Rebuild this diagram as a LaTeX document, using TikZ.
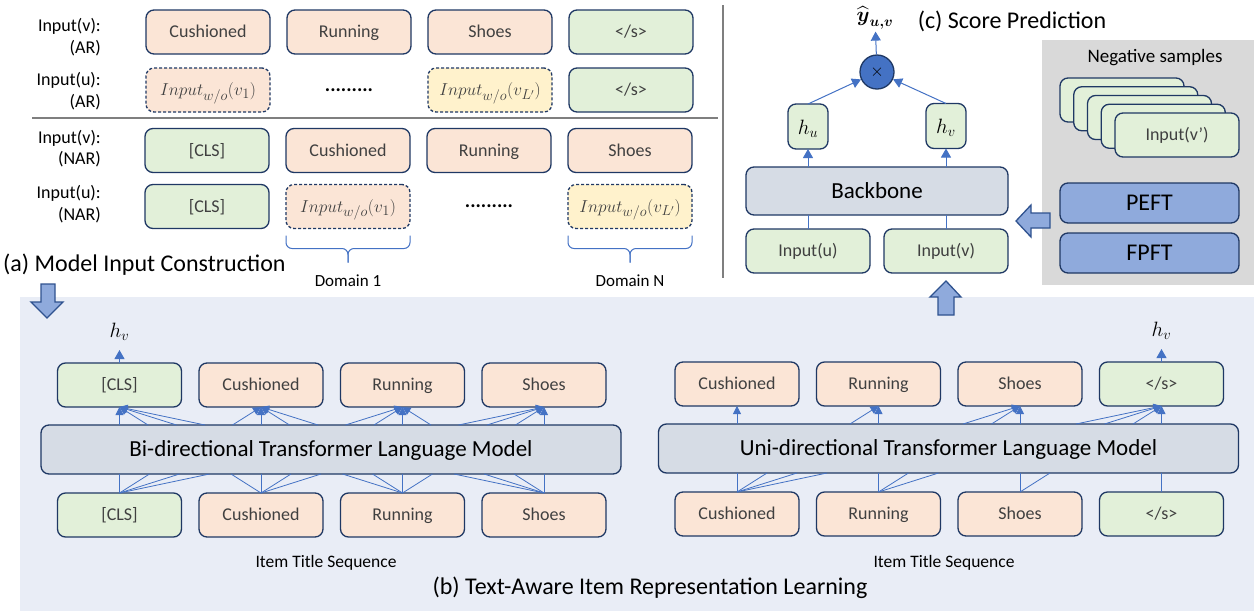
\documentclass[tikz,border=0pt]{standalone}
\usepackage{amsmath}
\usepackage{fontspec}
\setmainfont{Carlito}
\usetikzlibrary{positioning,calc,arrows.meta}

\definecolor{peach}{HTML}{FBE5D6}
\definecolor{mint}{HTML}{E2F0D9}
\definecolor{cream}{HTML}{FFF2CC}
\definecolor{slate}{HTML}{D6DCE5}
\definecolor{navy}{HTML}{1F3864}
\definecolor{linkblue}{HTML}{4472C4}
\definecolor{softblue}{HTML}{8FAADC}
\definecolor{arrowrim}{HTML}{2F528F}
\definecolor{panelblue}{HTML}{E9EDF6}
\definecolor{panelgray}{HTML}{D9D9D9}
\definecolor{inktext}{HTML}{404040}
\definecolor{rulegray}{HTML}{7F7F7F}

\newcommand{\pxsize}[1]{\fontsize{#1}{#1}\selectfont}

\begin{document}
\begin{tikzpicture}[x=1pt,y=-1pt,
    every node/.style={font=\pxsize{18}},
    tok/.style={draw=navy,line width=1.3pt,rounded corners=8pt,minimum width=124pt,
        minimum height=44pt,inner sep=0pt,outer sep=0pt,text=inktext,
        text height=13pt,text depth=1.4pt},
    word/.style={tok,fill=peach},
    spec/.style={tok,fill=mint},
    masked/.style={tok,fill=peach,dash pattern=on 3pt off 2pt,font=\pxsize{19},
        text height=14pt,text depth=3pt},
    maskedlast/.style={masked,fill=cream},
    ellip/.style={minimum width=124pt,minimum height=44pt,inner sep=0pt,outer sep=0pt,
        font=\pxsize{20}\bfseries},
    rowlab/.style={anchor=east,align=right,inner sep=0pt,font=\fontsize{18}{21.5}\selectfont},
    core/.style={tok,fill=slate,text=black,font=\pxsize{23},text height=17pt,text depth=2.2pt},
    lm/.style={core,minimum width=580pt,minimum height=49pt},
    hbox/.style={tok,fill=mint,minimum width=40pt,minimum height=45pt,text=black,font=\pxsize{21},
        text height=16pt,text depth=0.4pt},
    mul/.style={circle,draw=navy,line width=1.3pt,fill=linkblue,minimum size=34pt,inner sep=0pt},
    knob/.style={tok,fill=softblue,minimum width=179pt,minimum height=40pt,text=black,font=\pxsize{24},
        text height=18pt,text depth=2.5pt},
    wire/.style={linkblue,line width=0.8pt},
    flow/.style={wire,-{Triangle[length=8pt,width=8pt]}},
    bigflow/.style={linkblue,line width=1pt,-{Triangle[length=9pt,width=10pt]}},
    divider/.style={rulegray,line width=1.5pt},
    brc/.style={linkblue,line width=1pt,rounded corners=6pt},
    heading/.style={font=\pxsize{24},inner sep=0pt},
    blockarrow/.style={fill=softblue,draw=arrowrim,line width=1.3pt,line join=miter}]

\useasboundingbox (0,0) rectangle (1254,611);
\fill[panelblue] (20,297) rectangle (1254,611);
\fill[panelgray] (1042,40) rectangle (1254,285);
\draw[divider] (723,5) -- (723,278);
\draw[divider] (32,118) -- (718,118);

\node[rowlab] (la1) at (101,37) {Input(v):\\(AR)};
\node[rowlab] (la2) at (101,91) {Input(u):\\(AR)};
\node[rowlab] (la3) at (101,148.5) {Input(v):\\(NAR)};
\node[rowlab] (la4) at (101,204) {Input(u):\\(NAR)};

\node[word] (va1) at (208,32) {Cushioned};
\node[word,right=17pt of va1] (va2) {Running};
\node[word,right=17pt of va2] (va3) {Shoes};
\node[spec,right=17pt of va3] (va4) {</s>};
\node[masked] (ua1) at (208,90) {$Input_{w/o}(v_1)$};
\node[ellip,right=17pt of ua1] (ua2) {.........};
\node[maskedlast,right=17pt of ua2] (ua3) {$Input_{w/o}(v_{L'})$};
\node[spec,right=17pt of ua3] (ua4) {</s>};
\node[spec] (vn1) at (207,150.5) {[CLS]};
\node[word,right=17pt of vn1] (vn2) {Cushioned};
\node[word,right=17pt of vn2] (vn3) {Running};
\node[word,right=17pt of vn3] (vn4) {Shoes};
\node[spec] (un1) at (207,206.5) {[CLS]};
\node[masked,right=17pt of un1] (un2) {$Input_{w/o}(v_1)$};
\node[ellip,right=17pt of un2] (un3) {.........};
\node[maskedlast,right=17pt of un3] (un4) {$Input_{w/o}(v_{L'})$};

\foreach \b/\d in {un2/1,un4/N}{
  \draw[brc] ([yshift=-7pt]\b.south west) |- ([yshift=-20pt]\b.south) -- ([yshift=-34pt]\b.south);
  \draw[brc] ([yshift=-7pt]\b.south east) |- ([yshift=-20pt]\b.south) -- ([yshift=-34pt]\b.south);
  \node[font=\pxsize{17}] (dom\d) at ([yshift=-52pt]\b.south) {Domain \d};
}
\node[heading,anchor=west] (ta) at (3,265) {(a) Model Input Construction};

\draw[blockarrow] (41,284) -- (55,284) -- (55,302) -- (63,302) -- (47,318) -- (31,302) -- (41,302) -- cycle;
\draw[blockarrow] (938,315) -- (954,315) -- (954,297) -- (961,297) -- (946,281) -- (930,297) -- (938,297) -- cycle;
\draw[blockarrow] (1050,213) -- (1031,213) -- (1031,205) -- (1016,221) -- (1031,237) -- (1031,228) -- (1050,228) -- cycle;

\node[spec] (bt1) at (119.5,385) {[CLS]};
\node[word,right=17.5pt of bt1] (bt2) {Cushioned};
\node[word,right=17.5pt of bt2] (bt3) {Running};
\node[word,right=17.5pt of bt3] (bt4) {Shoes};
\node[lm] (bilm) at (331,449.5) {Bi-directional Transformer Language Model};
\node[spec] (bb1) at (119.5,515) {[CLS]};
\node[word,right=17.5pt of bb1] (bb2) {Cushioned};
\node[word,right=17.5pt of bb2] (bb3) {Running};
\node[word,right=17.5pt of bb3] (bb4) {Shoes};
\node[above=20pt of bt1,font=\pxsize{20},inner sep=2pt] (hvb) {$h_v$};
\node[font=\pxsize{17.5}] (seqb) at (326,563) {Item Title Sequence};

\node[word] (ut1) at (737,384) {Cushioned};
\node[word,right=17.5pt of ut1] (ut2) {Running};
\node[word,right=17.5pt of ut2] (ut3) {Shoes};
\node[spec,right=17.5pt of ut3] (ut4) {</s>};
\node[lm] (unilm) at (948.5,448.5) {Uni-directional Transformer Language Model};
\node[word] (ub1) at (737,514) {Cushioned};
\node[word,right=17.5pt of ub1] (ub2) {Running};
\node[word,right=17.5pt of ub2] (ub3) {Shoes};
\node[spec,right=17.5pt of ub3] (ub4) {</s>};
\node[above=20pt of ut4,font=\pxsize{20},inner sep=2pt] (hvu) {$h_v$};
\node[font=\pxsize{17.5}] (sequ) at (944,563) {Item Title Sequence};
\node[heading] (tb) at (650,588) {(b) Text-Aware Item Representation Learning};

\draw[bigflow,shorten >=7pt] (bt1) -- (hvb);
\draw[bigflow,shorten >=7pt] (ut4) -- (hvu);
\foreach \i in {1,...,4}{
  \foreach \j in {1,...,4}{
    \draw[flow] ($(bt\i.south |- bilm.north)+({(\j-\i)*28.5},0)$) -- (bt\i.south);
    \draw[wire] (bb\i.north) -- ($(bb\i.north |- bilm.south)+({(\j-\i)*30},0)$);
  }
  \foreach \j in {1,...,\i}
    \draw[flow] ($(ut\i.south |- unilm.north)+({(\j-\i)*28.5},0)$) -- (ut\i.south);
  \foreach \j in {\i,...,4}
    \draw[wire] (ub\i.north) -- ($(ub\i.north |- unilm.south)+({(\j-\i)*30},0)$);
}

\node[core,minimum width=262pt,minimum height=48pt] (bone) at (877,191) {Backbone};
\node[spec] (inu) at (808,251) {Input(u)};
\node[spec] (inv) at (946,251) {Input(v)};
\node[hbox] (hu) at (808,126.5) {$h_u$};
\node[hbox] (hv) at (946,126) {$h_v$};
\node[mul] (prod) at (877,72) {$\times$};
\node[font=\pxsize{20},inner sep=2pt] (yhat) at (875,18) {$\widehat{\boldsymbol{y}}_{\boldsymbol{u,v}}$};
\node[heading] (tc) at (1012,21) {(c) Score Prediction};
\draw[wire] (inu.north) -- (inu.north |- bone.south);
\draw[wire] (inv.north) -- (inv.north |- bone.south);
\draw[bigflow] (hu.south |- bone.north) -- (hu.south);
\draw[bigflow] (hv.south |- bone.north) -- (hv.south);
\draw[bigflow] (hu.north) -- (prod);
\draw[bigflow] (hv.north) -- (prod);
\draw[bigflow] (prod) -- (yhat);

\node[font=\pxsize{19}] (negt) at (1155,58) {Negative samples};
\foreach \k in {0,...,3}
  \node[spec] (neg\k) at ({1122+13.75*\k},{100+8.75*\k}) {};
\node[spec] (neg4) at (1177,135) {Input(v’)};
\node[knob] (peft) at (1149.5,203) {PEFT};
\node[knob] (fpft) at (1149.5,253) {FPFT};
\end{tikzpicture}
\end{document}
